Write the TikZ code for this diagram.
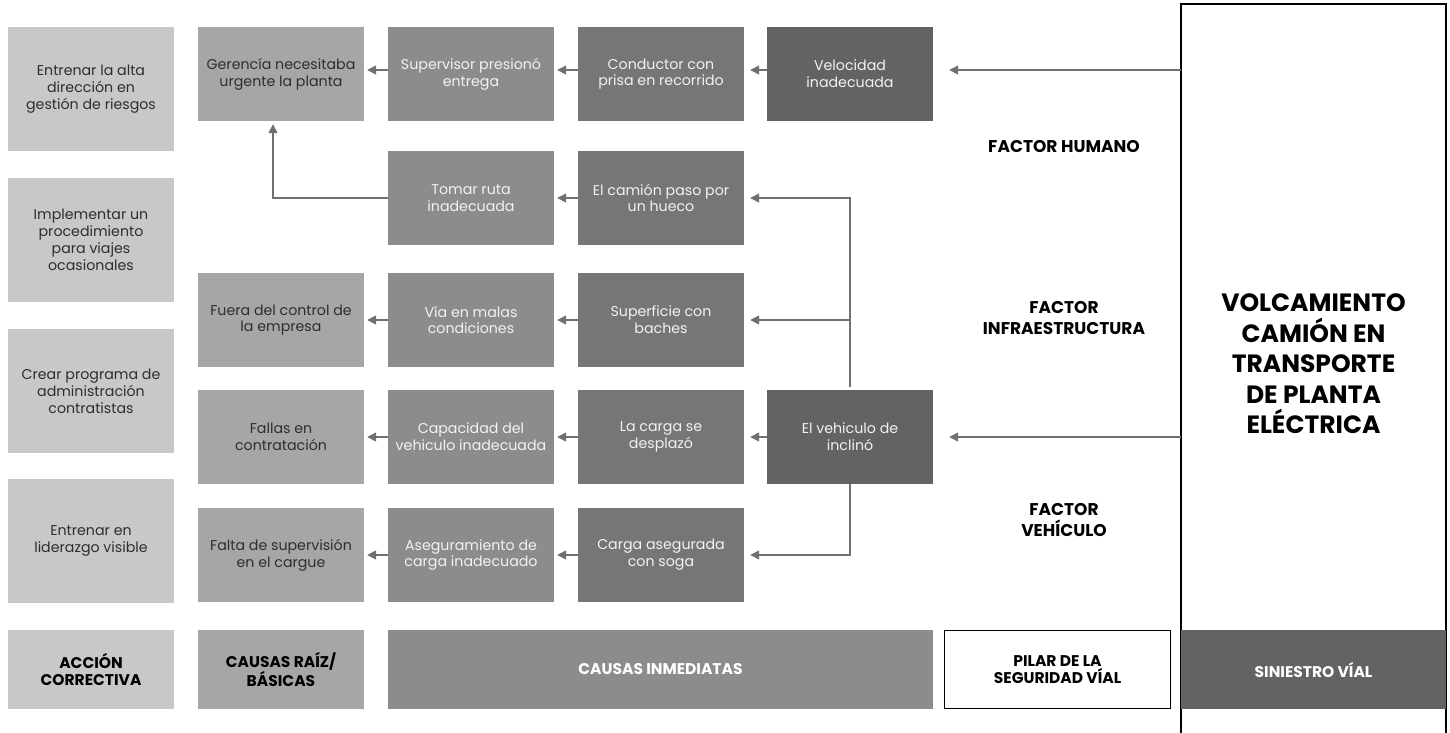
\documentclass[tikz,border=0pt]{standalone}
\usepackage{fontspec}
\setmainfont{Poppins}
\usetikzlibrary{arrows.meta,calc}
\definecolor{cA}{HTML}{C8C8C8}
\definecolor{cB}{HTML}{A6A6A6}
\definecolor{cC}{HTML}{8C8C8C}
\definecolor{cD}{HTML}{767676}
\definecolor{cE}{HTML}{636363}
\definecolor{lineC}{HTML}{707070}
\definecolor{darkT}{HTML}{2E2E2E}
\definecolor{lightT}{HTML}{F2F2F2}
\tikzset{
  box/.style={rectangle, inner sep=0pt, align=center, minimum width=166pt, minimum height=94pt,
              font=\fontsize{14.2}{16.8}\selectfont},
  acc/.style={box, fill=cA, text=darkT, minimum height=124pt},
  raiz/.style={box, fill=cB, text=darkT},
  inm/.style={box, fill=cC, text=lightT},
  dir/.style={box, fill=cD, text=lightT},
  evt/.style={box, fill=cE, text=lightT, minimum width=166pt},
  lbl/.style={rectangle, inner sep=0pt, align=center, minimum height=79pt,
              font=\fontsize{15.5}{17}\selectfont\bfseries},
  factor/.style={align=center, font=\fontsize{17}{20.5}\selectfont\bfseries, text=black},
  conn/.style={draw=lineC, line width=1.5pt, -{Triangle[length=9pt,width=9pt]}},
}
\begin{document}
\begin{tikzpicture}[x=1pt,y=-1pt]
\useasboundingbox (0,0) rectangle (1450,732);
% big event box
\draw[line width=1.4pt, black] (1181,745) -- (1181,4) -- (1446,4) -- (1446,745);
\node[rectangle, minimum width=265pt, minimum height=741pt, inner sep=0pt] (evento) at (1313.5,374.5) {};
\node[align=center, font=\fontsize{25}{30.5}\selectfont\bfseries] (title) at (1313.5,364)
  {VOLCAMIENTO\\CAMIÓN EN\\TRANSPORTE\\DE PLANTA\\ELÉCTRICA};

% column 1
\node[acc] (a1) at (91,89) {Entrenar la alta\\dirección en\\gestión de riesgos};
\node[acc] (a2) at (91,240) {Implementar un\\procedimiento\\para viajes\\ocasionales};
\node[acc] (a3) at (91,391) {Crear programa de\\administración\\contratistas};
\node[acc] (a4) at (91,541) {Entrenar en\\liderazgo visible};

% column 2
\node[raiz] (gerencia) at (281,74) {Gerencía necesitaba\\urgente la planta};
\node[raiz] (fuera) at (281,320) {Fuera del control de\\la empresa};
\node[raiz] (fallas) at (281,437) {Fallas en\\contratación};
\node[raiz] (falta) at (281,555) {Falta de supervisión\\en el cargue};

% column 3
\node[inm] (supervisor) at (471,74) {Supervisor presionó\\entrega};
\node[inm] (tomar) at (471,198) {Tomar ruta\\inadecuada};
\node[inm] (via) at (471,320) {Vía en malas\\condiciones};
\node[inm] (capacidad) at (471,437) {Capacidad del\\vehiculo inadecuada};
\node[inm] (asegur) at (471,555) {Aseguramiento de\\carga inadecuado};

% column 4
\node[dir] (conductor) at (661,74) {Conductor con\\prisa en recorrido};
\node[dir] (camion) at (661,198) {El camión paso por\\un hueco};
\node[dir] (superficie) at (661,320) {Superficie con\\baches};
\node[dir] (carga) at (661,437) {La carga se\\desplazó};
\node[dir] (soga) at (661,555) {Carga asegurada\\con soga};

% column 5
\node[evt] (velocidad) at (850,74) {Velocidad\\inadecuada};
\node[evt] (inclino) at (850,437) {El vehiculo de\\inclinó};

% factor labels
\node[factor] (fh) at (1064,146) {FACTOR HUMANO};
\node[factor] (fi) at (1064,318) {FACTOR\\INFRAESTRUCTURA};
\node[factor] (fv) at (1064,520) {FACTOR\\VEHÍCULO};

% bottom labels
\node[lbl, fill=cA, minimum width=166pt, text=black] (lacc) at (91,669.5) {ACCIÓN\\CORRECTIVA};
\node[lbl, fill=cB, minimum width=166pt, text=black] (lraiz) at (281,669.5) {CAUSAS RAÍZ/\\BÁSICAS};
\node[lbl, fill=cC, minimum width=545pt, text=white] (linm) at (660.5,669.5) {CAUSAS INMEDIATAS};
\node[lbl, draw=black, line width=1.4pt, minimum width=226pt, minimum height=78pt, text=black] (lpilar) at (1057.5,669.5) {PILAR DE LA\\SEGURIDAD VÍAL};
\node[lbl, fill=cE, minimum width=265pt, text=white] (lsin) at (1313.5,669.5) {SINIESTRO VÍAL};

% connectors row 1
\draw[conn, shorten >=16pt] ($(velocidad.east -| evento.west)+(0,-4)$) -- ($(velocidad.east)+(0,-4)$);
\draw[conn, shorten >=6pt] ($(velocidad.west)+(0,-4)$) -- ($(conductor.east)+(0,-4)$);
\draw[conn, shorten >=3pt] ($(conductor.west)+(0,-4)$) -- ($(supervisor.east)+(0,-4)$);
\draw[conn, shorten >=3pt] ($(supervisor.west)+(0,-4)$) -- ($(gerencia.east)+(0,-4)$);

% row 2
\draw[conn, shorten <=3pt, shorten >=6pt] (inclino.north) |- (camion.east);
\draw[conn, shorten >=3pt] (camion.west) -- (tomar.east);
\draw[conn, shorten >=3pt] (tomar.west) -| ($(gerencia.south)+(-8,0)$);

% row 3
\draw[conn, shorten <=3pt, shorten >=6pt] (inclino.north) |- (superficie.east);
\draw[conn, shorten >=3pt] (superficie.west) -- (via.east);
\draw[conn, shorten >=3pt] (via.west) -- (fuera.east);

% row 4
\draw[conn, shorten >=16pt] (inclino.east -| evento.west) -- (inclino.east);
\draw[conn, shorten >=6pt] (inclino.west) -- (carga.east);
\draw[conn, shorten >=3pt] (carga.west) -- (capacidad.east);
\draw[conn, shorten >=3pt] (capacidad.west) -- (fallas.east);

% row 5
\draw[conn, shorten >=6pt] (inclino.south) |- (soga.east);
\draw[conn, shorten >=3pt] (soga.west) -- (asegur.east);
\draw[conn, shorten >=3pt] (asegur.west) -- (falta.east);
\end{tikzpicture}
\end{document}
